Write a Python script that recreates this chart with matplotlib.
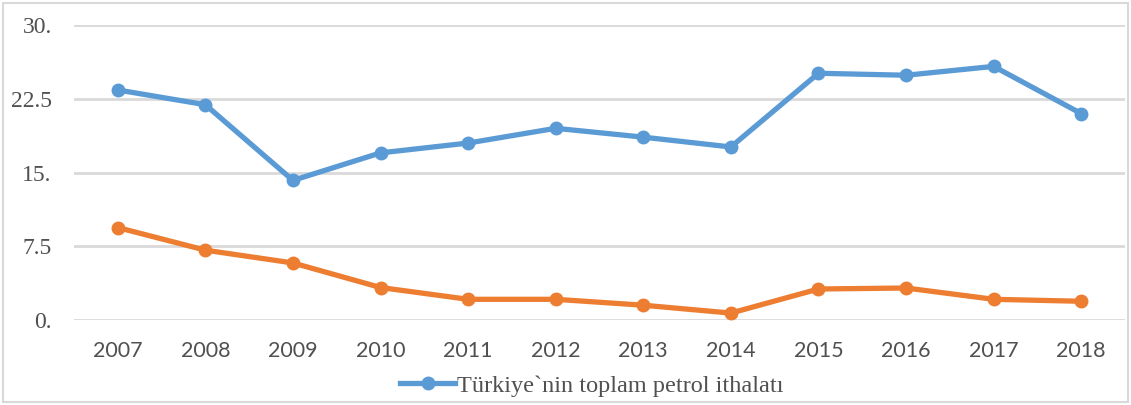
import matplotlib.pyplot as plt
from matplotlib.patches import Rectangle

years = ['2007', '2008', '2009', '2010', '2011', '2012',
         '2013', '2014', '2015', '2016', '2017', '2018']
toplam = [23.4, 21.9, 14.2, 17.0, 18.0, 19.5, 18.6, 17.6, 25.1, 24.9, 25.8, 21.0]
diger = [9.4, 7.1, 5.8, 3.3, 2.1, 2.1, 1.5, 0.7, 3.15, 3.25, 2.1, 1.9]
yticks = [0, 7.5, 15, 22.5, 30]
ylabels = ['0.', '7.5', '15.', '22.5', '30.']

fig = plt.figure(figsize=(11.31, 4.05), dpi=100)
ax = fig.add_axes([0.0654, 0.21, 0.9293, 0.728])

x = range(len(years))
ax.plot(x, toplam, color='#5B9BD5', lw=3.8, marker='o', ms=9,
        label='Türkiye`nin toplam petrol ithalatı', zorder=3)
ax.plot(x, diger, color='#ED7D31', lw=3.8, marker='o', ms=9, zorder=3)

ax.set_xlim(-0.5, len(years) - 0.5)
ax.set_ylim(0, 30)
ax.set_yticks(yticks)
ax.set_yticklabels(ylabels, fontfamily='Liberation Serif', fontsize=17, color='#505050')
ax.set_xticks(list(x))
ax.set_xticklabels(years, fontfamily='Lato', fontsize=15.5, color='#505050')
ax.tick_params(length=0)
ax.tick_params(axis='x', pad=15)
ax.tick_params(axis='y', pad=16)
ax.grid(axis='y', color='#D9D9D9', lw=2)
ax.set_axisbelow(True)
for s in ax.spines.values():
    s.set_visible(False)

leg = ax.legend(loc='center', bbox_to_anchor=(0.493, -0.224), frameon=False,
                prop={'family': 'Liberation Serif', 'size': 17.5}, handlelength=2.25,
                handletextpad=0.1, markerscale=1.0, borderpad=0)
for t in leg.get_texts():
    t.set_color('#505050')

fig.patches.append(Rectangle((0.003, 0.008), 0.994, 0.985, transform=fig.transFigure,
                             fill=False, edgecolor='#D9D9D9', lw=1.5))

fig.savefig('out.png')
